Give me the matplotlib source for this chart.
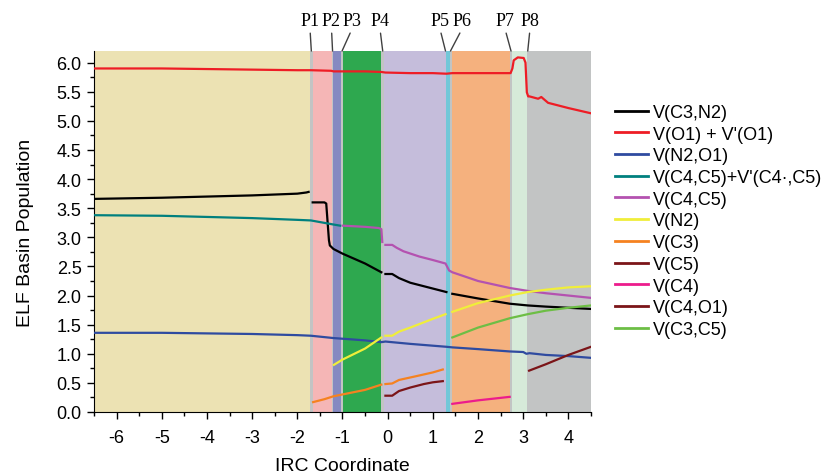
import numpy as np
import matplotlib
matplotlib.use("Agg")
import matplotlib.pyplot as plt
from matplotlib.ticker import MultipleLocator

nan = np.nan

# ---- phase bands (start, end, colour) ----
band_starts = [-6.5, -1.66, -1.20, -0.99, -0.08, 1.285, 1.43, 2.76]
band_ends   = [-1.72, -1.24, -1.04, -0.14, 1.285, 1.39, 2.70, 3.08]
band_colors = ['#ECE2B3', '#F5B6B6', '#8689C1', '#2EA84F', '#C5BDDB',
               '#72C7D8', '#F5B17E', '#D6EAD9']

p_labels = ['P1', 'P2', 'P3', 'P4', 'P5', 'P6', 'P7', 'P8']
p_pos    = [-1.69, -1.22, -1.01, -0.11, 1.28, 1.39, 2.73, 3.10]

# ---- series ----
x_c3n2 = [-6.5, -5, -4, -3, -2, -1.8, -1.75, nan, -1.66, -1.40, -1.36, -1.30, -1.28,
          -1.20, -1.0, -0.5, -0.14, nan, -0.05, 0.10, 0.25, 0.5, 1.0, 1.30, nan,
          1.43, 2.0, 2.7, 3.1, 3.5, 4.0, 4.5]
y_c3n2 = [3.66, 3.68, 3.70, 3.72, 3.75, 3.77, 3.78, nan, 3.60, 3.60, 3.58, 2.95, 2.86,
          2.80, 2.72, 2.55, 2.40, nan, 2.37, 2.37, 2.30, 2.22, 2.12, 2.06, nan,
          2.03, 1.95, 1.86, 1.83, 1.81, 1.79, 1.77]

x_o1 = [-6.5, -5, -4, -3, -2, -1.7, -1.25, -1.2, -0.5, -0.14, -0.05, 0.5, 1.0, 1.3,
        1.43, 2.0, 2.72, 2.76, 2.79, 2.88, 3.01, 3.05, 3.08, 3.11, 3.14, 3.33, 3.40,
        3.55, 4.0, 4.5]
y_o1 = [5.90, 5.90, 5.89, 5.88, 5.87, 5.87, 5.86, 5.85, 5.85, 5.84, 5.83, 5.82, 5.82,
        5.81, 5.82, 5.82, 5.82, 5.90, 6.04, 6.09, 6.08, 6.00, 5.49, 5.42, 5.42, 5.38,
        5.41, 5.31, 5.22, 5.13]

x_n2o1 = [-6.5, -5, -4, -3, -2, -1.7, -1.2, -0.5, -0.14, -0.05, 0.5, 1.3, 1.43, 2.0,
          2.7, 3.0, 3.07, 3.14, 3.5, 4.0, 4.5]
y_n2o1 = [1.36, 1.36, 1.35, 1.34, 1.32, 1.31, 1.27, 1.23, 1.20, 1.21, 1.17, 1.12, 1.11,
          1.08, 1.04, 1.03, 1.00, 1.01, 0.98, 0.96, 0.93]

x_c4c5b = [-6.5, -5, -4, -3, -2, -1.7, -1.2, -1.05]
y_c4c5b = [3.38, 3.37, 3.35, 3.33, 3.30, 3.29, 3.22, 3.20]

x_c4c5 = [-0.99, -0.5, -0.2, -0.14, -0.12, nan, -0.05, 0.10, 0.20, 0.35, 0.7, 1.0,
          1.28, 1.36, 1.43, 2.0, 2.7, 3.1, 3.5, 4.0, 4.5]
y_c4c5 = [3.20, 3.18, 3.16, 3.14, 2.92, nan, 2.87, 2.87, 2.82, 2.76, 2.67, 2.61,
          2.55, 2.43, 2.40, 2.25, 2.13, 2.08, 2.04, 2.00, 1.96]

x_n2 = [-1.19, -1.0, -0.5, -0.14, nan, -0.05, 0.10, 0.25, 0.5, 1.0, 1.28, nan,
        1.43, 2.0, 2.7, 3.1, 3.5, 4.0, 4.5]
y_n2 = [0.81, 0.90, 1.09, 1.28, nan, 1.31, 1.31, 1.38, 1.45, 1.60, 1.68, nan,
        1.72, 1.87, 2.00, 2.06, 2.10, 2.14, 2.16]

x_c3 = [-1.65, -1.4, -1.2, -0.5, -0.14, nan, -0.05, 0.10, 0.25, 0.6, 1.0, 1.22]
y_c3 = [0.17, 0.22, 0.27, 0.38, 0.47, nan, 0.48, 0.49, 0.55, 0.61, 0.68, 0.73]

x_c5 = [-0.05, 0.10, 0.25, 0.5, 0.8, 1.0, 1.22]
y_c5 = [0.28, 0.28, 0.36, 0.42, 0.48, 0.51, 0.53]

x_c4 = [1.43, 2.0, 2.7]
y_c4 = [0.14, 0.20, 0.26]

x_c4o1 = [3.13, 3.5, 4.0, 4.5]
y_c4o1 = [0.71, 0.82, 0.98, 1.12]

x_c3c5 = [1.43, 2.0, 2.7, 3.1, 3.5, 4.0, 4.5]
y_c3c5 = [1.28, 1.45, 1.61, 1.68, 1.74, 1.79, 1.83]

series = [
    ("V(C3,N2)", x_c3n2, y_c3n2, '#000000'),
    ("V(O1) + V'(O1)", x_o1, y_o1, '#EE1D25'),
    ("V(N2,O1)", x_n2o1, y_n2o1, '#2F4BA0'),
    ("V(C4,C5)+V'(C4\u00b7,C5)", x_c4c5b, y_c4c5b, '#00807E'),
    ("V(C4,C5)", x_c4c5, y_c4c5, '#B452B0'),
    ("V(N2)", x_n2, y_n2, '#F0EE3A'),
    ("V(C3)", x_c3, y_c3, '#F58220'),
    ("V(C5)", x_c5, y_c5, '#7B1518'),
    ("V(C4)", x_c4, y_c4, '#EC1C8C'),
    ("V(C4,O1)", x_c4o1, y_c4o1, '#7B1518'),
    ("V(C3,C5)", x_c3c5, y_c3c5, '#6DBE45'),
]

plt.rcParams['font.family'] = ['Liberation Sans', 'DejaVu Sans']
plt.rcParams['axes.unicode_minus'] = False

fig = plt.figure(figsize=(8.26, 4.77), dpi=100)
ax = fig.add_axes([94/826, 1-413/477, (591-94)/826, (413-52)/477])
ax.set_facecolor('#C2C4C4')
ax.set_xlim(-6.5, 4.5)
ax.set_ylim(0, 6.2)

for s, e, c in zip(band_starts, band_ends, band_colors):
    ax.axvspan(s, e, color=c, lw=0, zorder=0)

for label, xs, ys, c in series:
    ax.plot(xs, ys, color=c, lw=1.6, label=label, zorder=3)

ax.spines['top'].set_visible(False)
ax.spines['right'].set_visible(False)
ax.xaxis.set_major_locator(MultipleLocator(1))
ax.xaxis.set_minor_locator(MultipleLocator(0.5))
ax.yaxis.set_major_locator(MultipleLocator(0.5))
ax.yaxis.set_minor_locator(MultipleLocator(0.25))
ax.tick_params(which='major', direction='out', length=5, width=1, labelsize=13, pad=4)
ax.tick_params(which='minor', direction='out', length=3, width=1)
ax.tick_params(axis='x', pad=7)
ax.set_yticks(np.arange(0, 6.01, 0.5))
ax.set_yticklabels([f"{v:.1f}" for v in np.arange(0, 6.01, 0.5)])

ax.set_xlabel("IRC Coordinate", fontsize=14, va='center')
ax.set_ylabel("ELF Basin Population", fontsize=14, va='center')
ax.xaxis.set_label_coords((342 - 94) / 497, (413 - 467) / 361)
ax.yaxis.set_label_coords((25 - 94) / 497, 0.5)

# top P labels
text_px = [310, 331.5, 352, 380, 440, 462, 505, 530]
for lab, xp, tx in zip(p_labels, p_pos, text_px):
    ax.annotate(lab, xy=(xp, 6.2), xycoords='data',
                xytext=(tx, 477-30), textcoords='figure pixels',
                ha='center', va='bottom', fontsize=13,
                family='Liberation Serif', annotation_clip=False,
                arrowprops=dict(arrowstyle='-', color='#404040', lw=1,
                                relpos=(0.5, 0), shrinkA=1, shrinkB=0))

leg = ax.legend(loc='upper left', bbox_to_anchor=(615/826, 1-105/477),
                bbox_transform=fig.transFigure, frameon=False, fontsize=13,
                handlelength=1.85, handletextpad=0.25, labelspacing=0.26,
                borderpad=0, borderaxespad=0)
for l in leg.get_lines():
    l.set_linewidth(2)

fig.savefig("out.png", dpi=100)
